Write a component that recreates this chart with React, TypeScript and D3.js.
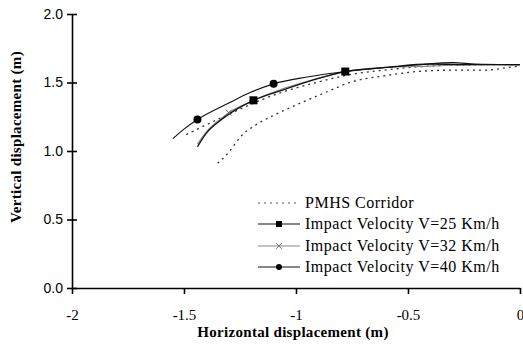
import React, { useEffect, useRef } from 'react';
import * as d3 from 'd3';

// values (x, y in metres)
const corridorLower = [
  [-1.35, 0.91], [-1.3, 0.99], [-1.25, 1.1], [-1.18, 1.19], [-1.1, 1.26], [-0.98, 1.35],
  [-0.85, 1.44], [-0.76, 1.5], [-0.6, 1.55], [-0.46, 1.58], [-0.3, 1.59], [-0.165, 1.59],
  [-0.05, 1.61], [0, 1.62],
];
const corridorUpper = [
  [-1.49, 1.12], [-1.35, 1.23], [-1.23, 1.32], [-1.13, 1.39], [-1.0, 1.46], [-0.91, 1.5],
  [-0.75, 1.56], [-0.61, 1.59], [-0.4, 1.62], [-0.165, 1.63], [0, 1.63],
];
const v25 = [
  [-1.44, 1.03], [-1.4, 1.13], [-1.34, 1.22], [-1.27, 1.3], [-1.19, 1.37], [-1.05, 1.45],
  [-0.9, 1.53], [-0.78, 1.58], [-0.6, 1.61], [-0.4, 1.635], [-0.2, 1.63], [0, 1.63],
];
const v25Marks = [[-1.19, 1.37], [-0.78, 1.58]];
const v32 = [
  [-1.44, 1.05], [-1.4, 1.14], [-1.34, 1.23], [-1.3, 1.28], [-1.2, 1.36], [-1.05, 1.46],
  [-0.9, 1.53], [-0.78, 1.58], [-0.6, 1.61], [-0.4, 1.62], [-0.2, 1.63], [0, 1.63],
];
const v32Marks = [[-1.3, 1.28]];
const v40 = [
  [-1.55, 1.09], [-1.5, 1.16], [-1.44, 1.23], [-1.3, 1.35], [-1.2, 1.43], [-1.1, 1.49],
  [-0.95, 1.54], [-0.78, 1.58], [-0.6, 1.61], [-0.45, 1.63], [-0.3, 1.645], [-0.2, 1.635],
  [0, 1.63],
];
const v40Marks = [[-1.44, 1.23], [-1.1, 1.49]];

const xTicks = [-2, -1.5, -1, -0.5, 0];
const yTicks = [0, 0.5, 1.0, 1.5, 2.0];
const legendLabels = [
  'PMHS Corridor',
  'Impact Velocity V=25 Km/h',
  'Impact Velocity V=32 Km/h',
  'Impact Velocity V=40 Km/h',
];

export default function App() {
  const ref = useRef<SVGGElement>(null);

  useEffect(() => {
    const svg = d3.select(ref.current);
    svg.selectAll('*').remove();

    const x = d3.scaleLinear().domain([-2, 0]).range([72, 520]);
    const y = d3.scaleLinear().domain([0, 2]).range([288, 14]);

    const line = d3.line<number[]>()
      .x((d) => x(d[0]))
      .y((d) => y(d[1]))
      .curve(d3.curveMonotoneX);

    // axes
    const xAxis = svg.append('g').attr('transform', `translate(0, ${y(0)})`)
      .call(d3.axisBottom(x).tickValues(xTicks).tickSize(6).tickSizeOuter(0)
        .tickFormat((d) => String(d)));
    xAxis.attr('font-family', 'Liberation Serif').attr('font-size', 15);
    xAxis.select('.domain').attr('stroke-width', 1.6);
    xAxis.selectAll('line').attr('stroke-width', 1.6);
    xAxis.selectAll('text').attr('fill', '#000').attr('dy', 0).attr('y', 32);

    const yAxis = svg.append('g').attr('transform', `translate(${x(-2)}, 0)`)
      .call(d3.axisLeft(y).tickValues(yTicks).tickSize(5).tickSizeOuter(0)
        .tickFormat(d3.format('.1f')));
    yAxis.attr('font-family', 'Liberation Sans').attr('font-size', 14);
    yAxis.select('.domain').attr('stroke-width', 1.6);
    yAxis.selectAll('.tick line').attr('x1', 5).attr('x2', -5).attr('stroke-width', 1.6);
    yAxis.selectAll('text').attr('fill', '#000').attr('x', -9);

    svg.append('text')
      .attr('x', 293).attr('y', 337)
      .attr('text-anchor', 'middle')
      .attr('font-weight', 'bold').attr('font-size', 15)
      .attr('letter-spacing', 0.3)
      .text('Horizontal displacement (m)');

    svg.append('text')
      .attr('transform', 'translate(21, 137) rotate(-90)')
      .attr('text-anchor', 'middle')
      .attr('font-weight', 'bold').attr('font-size', 15)
      .attr('letter-spacing', 0.3)
      .text('Vertical displacement (m)');

    // curves
    const series = [
      { data: corridorLower, stroke: '#333', dash: '2,4', width: 1.3 },
      { data: corridorUpper, stroke: '#333', dash: '2,4', width: 1.3 },
      { data: v32, stroke: '#888', dash: null, width: 1.2 },
      { data: v25, stroke: '#111', dash: null, width: 1.3 },
      { data: v40, stroke: '#111', dash: null, width: 1.1 },
    ];
    series.forEach((s) => {
      svg.append('path')
        .datum(s.data)
        .attr('fill', 'none')
        .attr('stroke', s.stroke)
        .attr('stroke-width', s.width)
        .attr('stroke-dasharray', s.dash)
        .attr('d', line);
    });

    const square = (g: any, cx: number, cy: number) =>
      g.append('rect').attr('x', cx - 4).attr('y', cy - 4).attr('width', 8).attr('height', 8).attr('fill', '#000');
    const circle = (g: any, cx: number, cy: number) =>
      g.append('circle').attr('cx', cx).attr('cy', cy).attr('r', 4).attr('fill', '#000');
    const cross = (g: any, cx: number, cy: number) =>
      g.append('path').attr('d', `M${cx - 3},${cy - 3}L${cx + 3},${cy + 3}M${cx - 3},${cy + 3}L${cx + 3},${cy - 3}`)
        .attr('stroke', '#666').attr('stroke-width', 1);

    v25Marks.forEach((d) => square(svg, x(d[0]), y(d[1])));
    v32Marks.forEach((d) => cross(svg, x(d[0]), y(d[1])));
    v40Marks.forEach((d) => circle(svg, x(d[0]), y(d[1])));

    // legend
    const rowY = [203, 224, 246, 267];
    const lg = svg.append('g');
    legendLabels.forEach((label, i) => {
      const yy = rowY[i];
      const stroke = i === 2 ? '#888' : '#111';
      lg.append('line').attr('x1', 258).attr('x2', 300).attr('y1', yy).attr('y2', yy)
        .attr('stroke', i === 0 ? '#555' : stroke).attr('stroke-width', i === 0 ? 1 : 1.2)
        .attr('stroke-dasharray', i === 0 ? '2,4' : null);
      if (i === 1) lg.append('rect').attr('x', 276).attr('y', yy - 3).attr('width', 6).attr('height', 6);
      if (i === 2) cross(lg, 279, yy).attr('stroke-width', 0.8);
      if (i === 3) lg.append('circle').attr('cx', 279).attr('cy', yy).attr('r', 3);
      lg.append('text').attr('x', 305).attr('y', yy + 5)
        .attr('font-size', 16).attr('letter-spacing', 0.5)
        .text(label);
    });
  }, []);

  return (
    <svg width={523} height={349}
      style={{ position: 'absolute', left: 0, top: 0, background: '#fff' }}>
      <g ref={ref} fontFamily="Liberation Serif" />
    </svg>
  );
}
